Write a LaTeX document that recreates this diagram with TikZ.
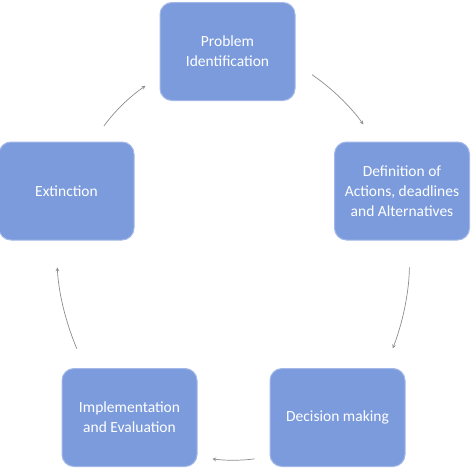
\documentclass[tikz,border=0pt]{standalone}
\usepackage{fontspec}
\setmainfont{Carlito}
\usetikzlibrary{positioning, calc}
\definecolor{boxfill}{HTML}{7B9BDC}
\definecolor{boxline}{HTML}{A3B8E8}
\definecolor{arrowgray}{HTML}{8C8C8C}

\begin{document}
\begin{tikzpicture}[x=1pt, y=-1pt,
    stage/.style={draw=boxline, line width=1pt, fill=boxfill, rounded corners=12pt,
      minimum width=135pt, minimum height=98pt, text=white, align=center,
      font=\fontsize{15.5}{20}\selectfont},
    flow/.style={->, >=stealth, arrowgray, line width=0.7pt}]
    \useasboundingbox (0,0) rectangle (474,474);
    \node[stage] (prob) at (227.5,51.5) {Problem\\Identification};
    \node[stage] (def) at (402,191) {Definition of\\Actions, deadlines\\and Alternatives};
    \node[stage] (dec) at (337.5,417.5) {Decision making};
    \node[stage] (imp) at (129.5,417.5) {Implementation\\and Evaluation};
    \node[stage] (ext) at (66.5,191) {Extinction};
    % cycle
    \draw[flow, shorten <=19pt, shorten >=17pt] (ext.62) to[bend left=10] (prob.200);
    \draw[flow, shorten <=20pt, shorten >=21pt] (prob.-10) to[bend left=10] (def.118);
    \draw[flow, shorten <=27pt, shorten >=21pt] (def.-81) to[bend left=10] (dec.46);
    \draw[flow, shorten <=15pt, shorten >=15pt] (dec.210) to[bend left=8] (imp.-30);
    \draw[flow, shorten <=21pt, shorten >=27pt] (imp.132) to[bend left=10] (ext.258);
\end{tikzpicture}
\end{document}
